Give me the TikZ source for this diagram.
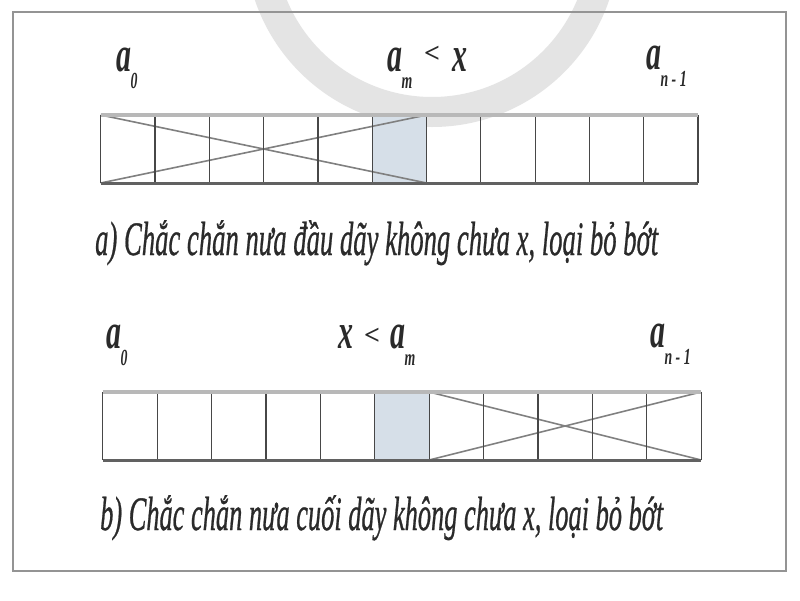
\documentclass[tikz,border=0pt]{standalone}
\usepackage{fontspec}
\setmainfont{Liberation Serif}
\newfontfamily\capfont[FakeBold=0.8]{Liberation Serif}
\usepackage{graphicx}
\definecolor{cellfill}{HTML}{D6DFE8}
\definecolor{ink}{HTML}{2A2A2A}
\definecolor{mark}{HTML}{E4E4E4}
\newcommand{\lbl}[2]{\scalebox{0.6}[1]{\fontsize{50}{50}\selectfont #1\kern-1pt\raisebox{-17pt}{\fontsize{23}{23}\selectfont #2}}}
\newcommand{\one}[1]{\scalebox{0.6}[1]{\fontsize{50}{50}\selectfont #1}}
\newcommand{\lessglyph}{{\fontsize{28}{28}\selectfont <}}
\tikzset{
 glyph/.style={inner sep=0pt, anchor=base west, text=ink, font=\bfseries\itshape},
 captext/.style={inner sep=0pt, anchor=base west, text=ink, font=\capfont\fontsize{48}{52}\selectfont\itshape},
 cellline/.style={draw=black!72, line width=1.2pt},
 crossline/.style={draw=black!50, line width=1.6pt},
 topedge/.style={draw=black!28, line width=4.5pt},
 botedge/.style={draw=black!62, line width=3pt},
 framebox/.style={draw=black!42, line width=2pt},
 watermark/.style={draw=mark, line width=30pt},
}
\begin{document}
\begin{tikzpicture}[x=1pt,y=-1pt]
\useasboundingbox (0,0) rectangle (800,600);
\fill[white] (0,0) rectangle (800,600);
\begin{scope}
\clip (0,0) rectangle (800,600);
\draw[watermark] (432,-60) circle (172);
\end{scope}
\draw[framebox] (13,12) rectangle (786,571);

% ---- array a ----
\fill[cellfill] (372.3,115) rectangle (426.6,183);
\draw[crossline] (100.7,115) -- (426.6,183);
\draw[crossline] (100.7,183) -- (426.6,115);
\foreach \i in {0,...,11} {
  \draw[cellline] ({100.7+54.3*\i},115) -- ({100.7+54.3*\i},183);
}
\draw[topedge] (100.7,115) -- (698.0,115);
\draw[botedge] (100.7,183) -- (698.0,183);

% labels a
\node[glyph] (aa0) at (116,71) {\lbl{a}{0}};
\node[glyph] (aam) at (387,71) {\lbl{a}{m}};
\node[glyph] (aalt) at (424,62) {\lessglyph};
\node[glyph] (aax) at (452,71) {\one{x}};
\node[glyph] (aan) at (646,69) {\lbl{a}{n - 1}};

\node[captext] (capa) at (95,255) {\resizebox{563pt}{\height}{a) Chắc chắn nưa đầu dãy không chưa x, loại bỏ bớt}};

% ---- array b ----
\fill[cellfill] (374.7,392) rectangle (429.1,460);
\draw[crossline] (429.1,392) -- (701.1,460);
\draw[crossline] (429.1,460) -- (701.1,392);
\foreach \i in {0,...,11} {
  \draw[cellline] ({102.7+54.4*\i},392) -- ({102.7+54.4*\i},460);
}
\draw[topedge] (102.7,392) -- (701.1,392);
\draw[botedge] (102.7,460) -- (701.1,460);

% labels b
\node[glyph] (ba0) at (106,348) {\lbl{a}{0}};
\node[glyph] (bx) at (338,348) {\one{x}};
\node[glyph] (blt) at (364,344) {\lessglyph};
\node[glyph] (bam) at (390,348) {\lbl{a}{m}};
\node[glyph] (ban) at (650,347) {\lbl{a}{n - 1}};

\node[captext] (capb) at (100,530) {\resizebox{563pt}{\height}{b) Chắc chắn nưa cuối dãy không chưa x, loại bỏ bớt}};
\end{tikzpicture}
\end{document}
